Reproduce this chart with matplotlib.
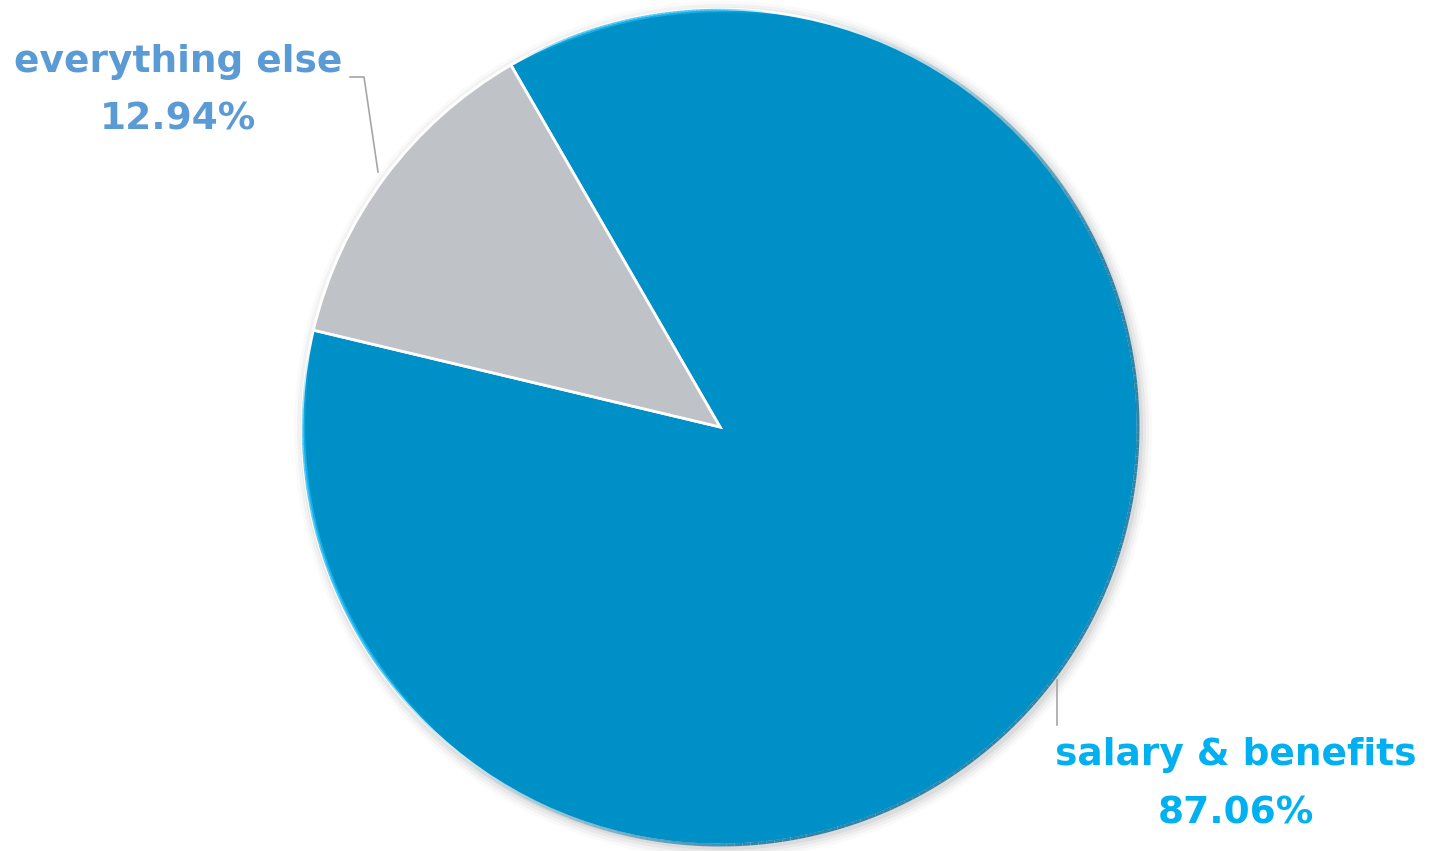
import matplotlib
matplotlib.use("Agg")
import matplotlib.pyplot as plt
import numpy as np
from matplotlib.patches import Circle
from matplotlib.collections import LineCollection
from matplotlib.colors import to_rgb

# data
labels = ["salary & benefits", "everything else"]
shares = [87.06, 12.94]
colors = ["#0090C8", "#BFC3C7"]
label_colors = ["#00B0F0", "#5B9BD5"]

W, H = 1434, 851
fig = plt.figure(figsize=(W / 100, H / 100), dpi=100)
ax = fig.add_axes([0, 0, 1, 1])

cx, cy, r = 720, 424, 418

# soft shadow around the pie
for i, a in enumerate([0.05, 0.04, 0.03, 0.02]):
    ax.add_patch(Circle((cx + 3, cy - 3), r + 2 + i * 3, color="black", alpha=a, lw=0, zorder=0))

wedges, _ = ax.pie(shares, colors=colors, startangle=166.6, counterclock=True,
                   center=(cx, cy), radius=r, frame=True,
                   wedgeprops=dict(edgecolor="white", linewidth=2))
ax.set_xlim(0, W)
ax.set_ylim(0, H)
ax.set_aspect("equal")
ax.axis("off")


# rim shading that fades in and out: darker lower right, lighter top/left
def rim(t0, t1, color, lw, amax, rr):
    t = np.radians(np.linspace(t0, t1, 200))
    pts = np.column_stack([cx + rr * np.cos(t), cy + rr * np.sin(t)])
    segs = np.stack([pts[:-1], pts[1:]], axis=1)
    f = np.linspace(0, 1, len(segs))
    a = amax * np.clip(4 * np.minimum(f, 1 - f), 0, 1)
    rgb = to_rgb(color)
    cols = [(rgb[0], rgb[1], rgb[2], v) for v in a]
    ax.add_collection(LineCollection(segs, colors=cols, linewidths=lw, capstyle="butt", zorder=5))


rim(-140, 80, "#0B6F97", 2.2, 0.85, r)
rim(82, 119, "#1FBAF2", 2.5, 0.8, r - 1.5)
rim(168, 230, "#1FBAF2", 2.5, 0.8, r - 1.5)

font = dict(family=["DejaVu Sans"], fontweight="bold", fontsize=27, ha="center", va="center")

# everything else label
ax.text(178, 789, labels[1], color=label_colors[1], **font)
ax.text(178, 731, f"{shares[1]:.2f}%", color=label_colors[1], **font)
ax.plot([350, 364, 378], [774, 774, 679], color="#A6A6A6", lw=1.2)

# salary label
ax.text(1236, 96, labels[0], color=label_colors[0], **font)
ax.text(1236, 38, f"{shares[0]:.2f}%", color=label_colors[0], **font)
ax.plot([1057, 1057], [171, 126], color="#A6A6A6", lw=1.2)

fig.savefig("out.png", dpi=100)
